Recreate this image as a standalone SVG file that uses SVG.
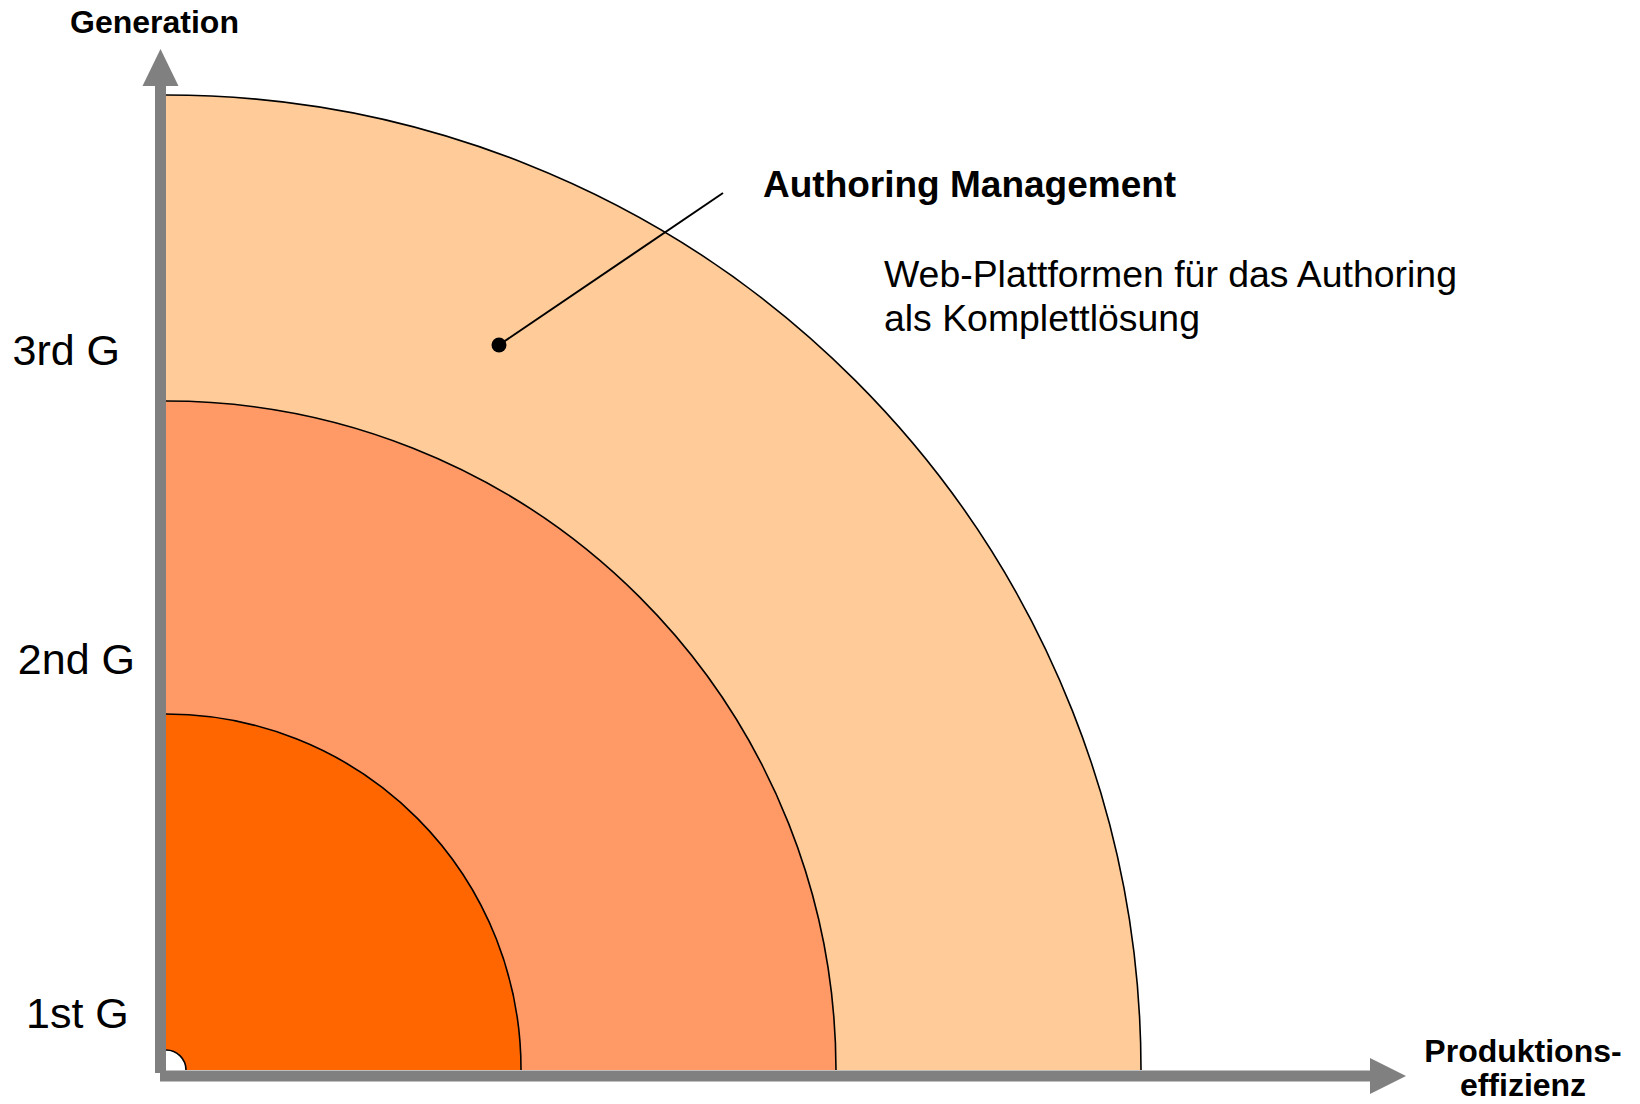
<svg xmlns="http://www.w3.org/2000/svg" width="1640" height="1104" viewBox="0 0 1640 1104">
<style>
.arc{fill:none;stroke:#000;stroke-width:1.6}
.axis{fill:#808080}
.lbl{font-family:"Liberation Sans",Arial,sans-serif;fill:#000}
.b{font-weight:bold}
</style>
<rect width="1640" height="1104" fill="#fff"/>
<g id="gen3">
<path d="M166,1070 L166,95 A975,975 0 0 1 1141,1070 Z" fill="#FFCC99"/>
<path class="arc" d="M166,95 A975,975 0 0 1 1141,1070"/>
</g>
<g id="gen2">
<path d="M166,1070 L166,401 A670,670 0 0 1 836,1070 Z" fill="#FF9966"/>
<path class="arc" d="M166,401 A670,670 0 0 1 836,1070"/>
</g>
<g id="gen1">
<path d="M166,1070 L166,714 A355,355 0 0 1 521,1070 Z" fill="#FF6600"/>
<path class="arc" d="M166,714 A355,355 0 0 1 521,1070"/>
</g>
<g id="origin">
<path d="M166,1070 L166,1050 A20,20 0 0 1 186,1070 Z" fill="#fff"/>
<path class="arc" d="M166,1050 A20,20 0 0 1 186,1070"/>
</g>
<g id="connectors">
<rect class="axis" x="155" y="84" width="11" height="989"/>
<polygon class="axis" points="160.5,49 142.5,86 178.5,86"/>
<rect class="axis" x="160" y="1070.5" width="1212" height="11"/>
<polygon class="axis" points="1406,1076 1370,1058 1370,1094"/>
<line x1="499" y1="345" x2="723" y2="193" stroke="#000" stroke-width="2"/>
<circle cx="499" cy="345" r="7.5" fill="#000"/>
</g>
<g id="labels">
<text class="lbl b" x="154.5" y="33" font-size="32" text-anchor="middle">Generation</text>
<text class="lbl" x="12.5" y="365" font-size="43">3rd G</text>
<text class="lbl" x="17.8" y="674" font-size="43">2nd G</text>
<text class="lbl" x="26" y="1028" font-size="43">1st G</text>
<text class="lbl b" x="1523" y="1062" font-size="32" text-anchor="middle">Produktions-</text>
<text class="lbl b" x="1523" y="1096" font-size="32" text-anchor="middle">effizienz</text>
</g>
<g id="callout">
<text class="lbl b" x="763" y="197" font-size="37">Authoring Management</text>
<text class="lbl" x="884" y="287" font-size="37.4">Web-Plattformen für das Authoring</text>
<text class="lbl" x="884" y="331" font-size="37.4">als Komplettlösung</text>
</g>
</svg>
